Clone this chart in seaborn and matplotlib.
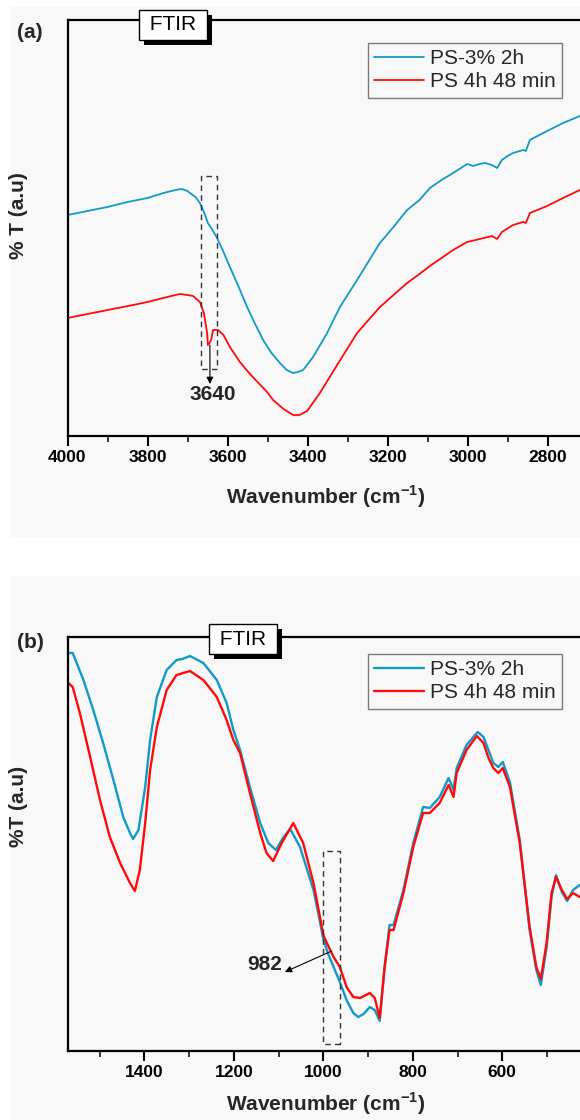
import matplotlib
matplotlib.use("Agg")
import matplotlib.pyplot as plt
import matplotlib.patheffects as pe
from matplotlib.patches import Rectangle
from matplotlib.ticker import MultipleLocator
import pandas as pd
import seaborn as sns

# ---------------- data ----------------
series_names = ["PS-3% 2h", "PS 4h 48 min"]

# Panel (a): 4000-2700 cm-1
wn_a_blue = [4000, 3950, 3900, 3850, 3800, 3760, 3730, 3715, 3700, 3694, 3680, 3669, 3659,
             3649, 3639, 3626, 3610, 3594, 3572, 3551, 3531, 3511, 3490, 3469, 3452, 3436,
             3424, 3411, 3386, 3351, 3319, 3276, 3219, 3185, 3151, 3120, 3094, 3065, 3036,
             3001, 2986, 2970, 2956, 2939, 2926, 2914, 2900, 2886, 2861, 2854, 2844, 2801,
             2761, 2719]
t_a_blue = [221, 225, 229, 234, 238, 243, 246, 247, 245, 243, 239, 233, 224,
            213, 207, 198, 184, 169, 149, 129, 112, 96, 83, 73, 66, 63,
            64, 66, 79, 103, 129, 156, 193, 209, 226, 236, 248, 256, 263,
            272, 270, 272, 273, 271, 268, 276, 280, 283, 286, 285, 296, 305,
            313, 320]

wn_a_red = [4000, 3950, 3900, 3836, 3800, 3751, 3719, 3700, 3686, 3669, 3659, 3651, 3649,
            3645, 3641, 3636, 3624, 3610, 3594, 3569, 3544, 3520, 3501, 3486, 3460, 3436,
            3420, 3401, 3369, 3326, 3276, 3219, 3185, 3151, 3120, 3094, 3036, 3001, 2969,
            2939, 2926, 2914, 2886, 2861, 2854, 2844, 2801, 2761, 2719]
t_a_red = [118, 122, 126, 131, 134, 139, 142, 141, 140, 134, 123, 103, 91,
           93, 96, 106, 106, 101, 89, 74, 62, 52, 44, 36, 27, 21,
           21, 25, 43, 71, 103, 129, 141, 153, 162, 170, 186, 194, 197,
           200, 197, 204, 211, 214, 213, 223, 230, 238, 246]

# Panel (b): 1570-430 cm-1
wn_b_blue = [1570, 1560, 1536, 1514, 1492, 1469, 1447, 1432, 1425, 1413, 1398, 1387, 1372,
             1350, 1328, 1315, 1298, 1268, 1238, 1216, 1201, 1186, 1164, 1141, 1123, 1106,
             1089, 1074, 1052, 1022, 1010, 1000, 990, 977, 963, 948, 933, 922, 910, 896,
             885, 874, 863, 852, 843, 821, 799, 777, 762, 740, 720, 709, 702, 680, 655,
             642, 631, 620, 609, 599, 583, 561, 539, 524, 514, 501, 490, 480, 467, 455,
             442, 427]
t_b_blue = [398, 398, 371, 341, 308, 271, 234, 218, 212, 221, 264, 311, 354,
            381, 391, 392, 395, 388, 371, 348, 321, 301, 264, 228, 208, 201,
            214, 222, 204, 161, 135, 112, 98, 84, 69, 51, 38, 34, 37, 44,
            41, 30, 84, 126, 126, 161, 208, 244, 243, 254, 273, 261, 283, 306, 319,
            314, 301, 288, 284, 289, 269, 211, 121, 81, 66, 104, 154, 176, 159, 150,
            161, 166]

wn_b_red = [1570, 1560, 1544, 1521, 1499, 1477, 1454, 1432, 1421, 1410, 1398, 1387, 1372,
            1350, 1328, 1298, 1268, 1238, 1216, 1201, 1186, 1164, 1141, 1127, 1112, 1093,
            1067, 1045, 1022, 1010, 1000, 990, 977, 963, 948, 933, 918, 896, 885, 874,
            863, 852, 843, 821, 799, 777, 762, 740, 720, 709, 702, 680, 657, 642, 631,
            620, 609, 599, 583, 561, 539, 524, 514, 501, 490, 480, 467, 455, 442, 427]
t_b_red = [368, 364, 338, 294, 251, 214, 188, 168, 160, 181, 228, 281, 324,
           361, 376, 380, 371, 354, 331, 311, 298, 258, 218, 198, 190, 208,
           228, 208, 168, 140, 116, 106, 94, 84, 64, 54, 53, 58, 53, 33,
           84, 121, 121, 158, 204, 238, 238, 248, 266, 254, 278, 301, 315, 308, 293,
           283, 278, 283, 264, 208, 124, 84, 72, 108, 158, 174, 161, 152, 158, 154]

xlim_a = (4000, 2718.75)
xlim_b = (1571.6, 426.4)

# ---------------- style ----------------
sns.set_theme(style="ticks")
plt.rcParams["font.family"] = ["Liberation Sans", "DejaVu Sans"]
plt.rcParams["font.weight"] = "bold"
plt.rcParams["mathtext.fontset"] = "custom"
plt.rcParams["mathtext.rm"] = "Liberation Sans"
plt.rcParams["mathtext.bf"] = "Liberation Sans:bold"

BLUE = "#109ac6"
RED = "#ff0a0a"
BG = "#f8f8f8"
W, H = 580, 1120

fig = plt.figure(figsize=(W / 100, H / 100), dpi=100, facecolor="white")
fig.add_artist(Rectangle((10 / W, 1 - 537 / H), 570 / W, 530 / H, transform=fig.transFigure,
                         fc=BG, ec="none", zorder=-10))
fig.add_artist(Rectangle((10 / W, 0), 570 / W, 1 - 576 / H, transform=fig.transFigure,
                         fc=BG, ec="none", zorder=-10))

ax_a = fig.add_axes([67.5 / W, 1 - 436 / H, (W - 67.5) / W, 416 / H])
ax_b = fig.add_axes([67.5 / W, 1 - 1051 / H, (W - 67.5) / W, 414 / H])


def make_df(wn1, t1, wn2, t2):
    d1 = pd.DataFrame({"wn": wn1, "T": t1, "sample": series_names[0]})
    d2 = pd.DataFrame({"wn": wn2, "T": t2, "sample": series_names[1]})
    return pd.concat([d1, d2], ignore_index=True)


df_a = make_df(wn_a_blue, t_a_blue, wn_a_red, t_a_red)
df_b = make_df(wn_b_blue, t_b_blue, wn_b_red, t_b_red)


def style_axes(ax, df, xlim, ylim, lw, ylabel, ylab_y, xlab_y, leg_anchor, ftir_xy):
    sns.lineplot(data=df, x="wn", y="T", hue="sample", hue_order=series_names,
                 palette=[BLUE, RED], estimator=None, sort=False, lw=lw, ax=ax)
    ax.set_facecolor("none")
    ax.set_xlim(*xlim)
    ax.set_ylim(*ylim)
    ax.set_yticks([])
    ax.xaxis.set_major_locator(MultipleLocator(200))
    ax.xaxis.set_minor_locator(MultipleLocator(100))
    ax.tick_params(axis="x", which="major", direction="out", length=7, width=1.5,
                   labelsize=12.5, pad=3, colors="black")
    ax.tick_params(axis="x", which="minor", direction="out", length=4, width=1.3)
    for s in ["left", "top", "bottom"]:
        ax.spines[s].set_linewidth(1.6)
        ax.spines[s].set_color("black")
    ax.spines["right"].set_visible(False)
    ax.set_xlabel("Wavenumber (cm$^{\\mathbf{-1}}$)", fontsize=15, fontweight="bold")
    ax.xaxis.set_label_coords(0.504, xlab_y)
    ax.set_ylabel(ylabel, fontsize=15, fontweight="bold")
    ax.yaxis.set_label_coords(-0.077, ylab_y)
    handles, labels = ax.get_legend_handles_labels()
    ax.legend(handles, labels, loc="upper left", bbox_to_anchor=leg_anchor,
              borderaxespad=0, frameon=True, fancybox=False, framealpha=1,
              facecolor=BG, edgecolor="#7a7a7a", prop={"size": 15, "weight": "normal"},
              handlelength=2.4, handletextpad=0.3, labelspacing=0.2, borderpad=0.3)
    ax.get_legend().get_frame().set_linewidth(1.0)
    # FTIR label box with a black drop shadow
    t = ax.text(ftir_xy[0], ftir_xy[1], " FTIR ", transform=ax.transAxes, ha="center",
                va="center", fontsize=15, fontweight="normal", color="black",
                bbox=dict(boxstyle="square,pad=0.25", fc="white", ec="black", lw=1),
                zorder=11)
    t.get_bbox_patch().set_path_effects([
        pe.SimplePatchShadow(offset=(3.6, -3.6), shadow_rgbFace="black", alpha=1.0),
        pe.Normal()])


style_axes(ax_a, df_a, xlim_a, (0, 416), 1.3, "% T (a.u)", 0.53, -0.113, (0.586, 0.945),
           (0.206, 0.988))
style_axes(ax_b, df_b, xlim_b, (0, 414), 1.7, "%T (a.u)", 0.59, -0.094, (0.586, 0.959),
           (0.342, 0.995))

# annotations panel (a)
ax_a.add_patch(Rectangle((3627, 67), 40, 193, fill=False, ls=(0, (4, 3)), lw=1.0,
                         ec="#333333", zorder=5))
ax_a.annotate("", xy=(3644, 52), xytext=(3644, 91),
              arrowprops=dict(arrowstyle="-|>", color="black", lw=0.8, mutation_scale=10,
                              shrinkA=0, shrinkB=0))
ax_a.text(3636, 42, "3640", ha="center", va="center", fontsize=15, fontweight="bold")

# annotations panel (b)
ax_b.add_patch(Rectangle((962, 7), 38, 193, fill=False, ls=(0, (4, 3)), lw=1.0,
                         ec="#333333", zorder=5))
ax_b.annotate("", xy=(1086, 79), xytext=(981, 100),
              arrowprops=dict(arrowstyle="-|>", color="black", lw=0.8, mutation_scale=10,
                              shrinkA=0, shrinkB=0))
ax_b.text(1132, 86, "982", ha="center", va="center", fontsize=15, fontweight="bold")

fig.text(30 / W, 1 - 33 / H, "(a)", ha="center", va="center", fontsize=15, fontweight="bold")
fig.text(30 / W, 1 - 643 / H, "(b)", ha="center", va="center", fontsize=15, fontweight="bold")

fig.savefig("out.png", dpi=100, facecolor="white")
